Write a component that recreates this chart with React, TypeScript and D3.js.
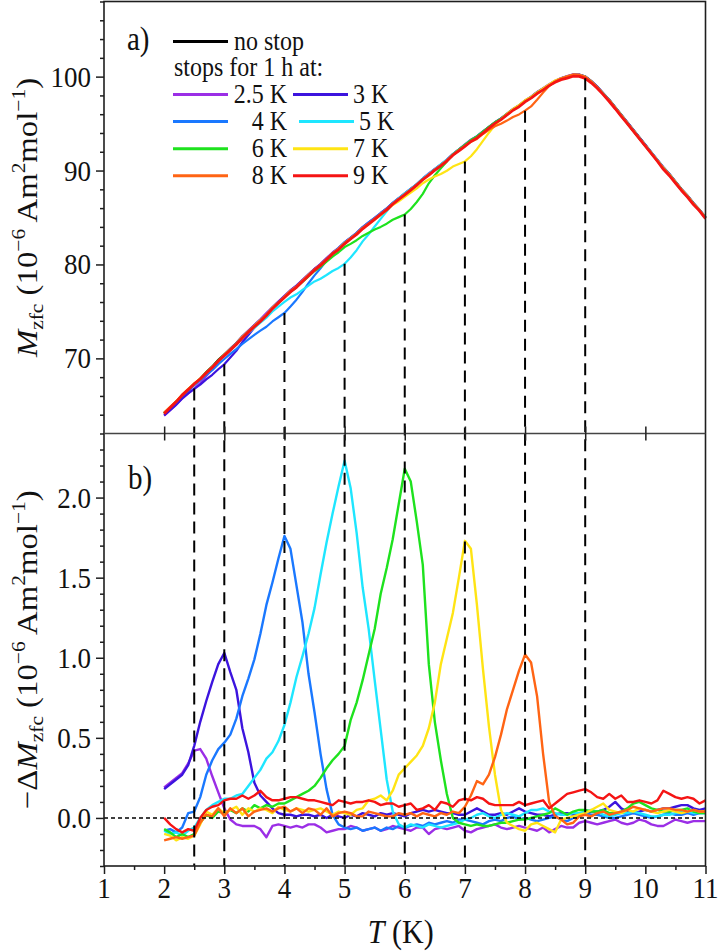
import React, { useRef, useEffect } from 'react';
import * as d3 from 'd3';

// temperature grid of the sweep, 2.0 K to 11.0 K in 0.1 K steps
const temps = d3.range(20, 111).map((i) => i / 10);

const stopTemps = [2.5, 3, 4, 5, 6, 7, 8, 9];
const stopLabels = ['2.5 K', '3 K', '4 K', '5 K', '6 K', '7 K', '8 K', '9 K'];
const stopColors = ['#9b2ee6', '#3c14de', '#1a78ff', '#1ee6ff', '#1ee21e', '#ffe414', '#ff6414', '#f51414'];

const xTicks = [1, 2, 3, 4, 5, 6, 7, 8, 9, 10, 11];
const mTicks = [70, 80, 90, 100];
const dmTicks = [0, 0.5, 1, 1.5, 2];

// M_zfc without stop (10^-6 Am^2/mol)
const mNoStop = [
  64.1, 64.7, 65.3, 66.0, 66.6, 67.2, 67.8, 68.5, 69.1, 69.8,
  70.4, 71.0, 71.6, 72.3, 72.9, 73.5, 74.1, 74.7, 75.4, 76.0,
  76.6, 77.2, 77.7, 78.3, 78.9, 79.5, 80.0, 80.6, 81.2, 81.7,
  82.3, 82.8, 83.3, 83.9, 84.4, 84.9, 85.4, 85.9, 86.5, 87.0,
  87.5, 88.0, 88.5, 89.1, 89.6, 90.1, 90.6, 91.1, 91.7, 92.2,
  92.7, 93.2, 93.6, 94.1, 94.6, 95.1, 95.5, 96.0, 96.5, 96.9,
  97.4, 97.8, 98.3, 98.7, 99.1, 99.5, 99.8, 100.0, 100.2, 100.2,
  100.0, 99.5, 98.9, 98.2, 97.5, 96.7, 95.9, 95.1, 94.3, 93.5,
  92.7, 91.9, 91.1, 90.3, 89.6, 88.8, 88.0, 87.3, 86.5, 85.8,
  85.0,
];

// -ΔM_zfc for each stop temperature
const dm25 = [
  0.19, 0.22, 0.25, 0.28, 0.34, 0.42, 0.43, 0.37, 0.26, 0.16,
  0.06, -0.01, -0.04, -0.05, -0.05, -0.05, -0.07, -0.12, -0.05, -0.04,
  -0.05, -0.06, -0.05, -0.06, -0.04, -0.04, -0.06, -0.09, -0.08, -0.07,
  -0.07, -0.05, -0.06, -0.08, -0.07, -0.06, -0.08, -0.07, -0.05, -0.06,
  -0.07, -0.08, -0.06, -0.06, -0.10, -0.07, -0.06, -0.07, -0.06, -0.05,
  -0.08, -0.09, -0.07, -0.06, -0.05, -0.04, -0.06, -0.07, -0.06, -0.05,
  -0.06, -0.07, -0.08, -0.06, -0.09, -0.07, -0.05, -0.06, -0.06, -0.03,
  -0.02, -0.03, -0.04, -0.03, -0.02, -0.01, -0.03, -0.04, -0.03, -0.01,
  -0.02, -0.04, -0.05, -0.05, -0.03, -0.01, -0.02, -0.03, -0.02, -0.02,
  -0.02,
];
const dm3 = [
  0.18, 0.21, 0.24, 0.27, 0.33, 0.45, 0.60, 0.73, 0.85, 0.96,
  1.03, 0.91, 0.80, 0.56, 0.41, 0.22, 0.14, 0.10, 0.06, 0.03,
  0.02, 0.02, 0.01, 0.02, 0.02, 0.01, 0.02, 0.00, 0.02, 0.01,
  0.00, 0.02, 0.01, 0.03, 0.02, 0.01, 0.03, 0.02, 0.03, 0.02,
  0.01, 0.03, 0.04, 0.05, 0.04, 0.05, 0.04, 0.03, 0.03, 0.02,
  0.02, 0.04, 0.06, 0.04, 0.02, 0.02, 0.03, 0.02, 0.04, 0.06,
  0.04, 0.03, 0.02, 0.02, 0.01, 0.02, 0.03, 0.03, 0.02, 0.03,
  0.03, 0.04, 0.04, 0.05, 0.07, 0.10, 0.06, 0.04, 0.03, 0.04,
  0.05, 0.04, 0.05, 0.06, 0.06, 0.07, 0.08, 0.08, 0.06, 0.05,
  0.06,
];
const dm4 = [
  -0.08, -0.07, -0.09, -0.06, 0.03, 0.04, 0.13, 0.27, 0.36, 0.43,
  0.47, 0.52, 0.62, 0.76, 0.87, 0.99, 1.15, 1.33, 1.47, 1.62,
  1.76, 1.68, 1.45, 1.22, 0.90, 0.66, 0.40, 0.18, 0.02, -0.04,
  -0.06, -0.07, -0.06, -0.08, -0.07, -0.06, -0.08, -0.06, -0.07, -0.05,
  -0.06, -0.05, -0.04, -0.05, -0.03, -0.04, -0.03, -0.02, -0.03, -0.01,
  -0.01, -0.02, -0.03, -0.04, -0.02, -0.01, -0.02, 0.00, 0.01, -0.01,
  0.00, -0.01, -0.02, -0.01, 0.00, 0.01, -0.01, -0.02, 0.00, 0.02,
  0.03, 0.02, 0.02, 0.01, 0.00, 0.00, 0.01, 0.02, 0.03, 0.02,
  0.01, 0.00, 0.01, 0.02, 0.03, 0.02, 0.02, 0.03, 0.02, 0.03,
  0.03,
];
const dm5 = [
  -0.08, -0.10, -0.09, -0.11, -0.08, -0.06, 0.00, 0.05, 0.08, 0.10,
  0.12, 0.12, 0.14, 0.15, 0.20, 0.25, 0.30, 0.37, 0.41, 0.48,
  0.58, 0.72, 0.88, 1.01, 1.15, 1.31, 1.52, 1.72, 1.90, 2.07,
  2.23, 2.06, 1.78, 1.44, 1.18, 0.86, 0.55, 0.24, 0.04, -0.04,
  -0.06, -0.04, -0.05, -0.06, -0.04, -0.05, -0.06, -0.05, -0.04, -0.03,
  -0.01, 0.00, 0.02, 0.03, 0.01, 0.00, 0.02, 0.03, 0.02, 0.01,
  0.03, 0.05, 0.05, 0.06, 0.04, 0.03, 0.02, 0.02, 0.03, 0.03,
  0.04, 0.05, 0.04, 0.02, 0.01, 0.02, 0.03, 0.03, 0.04, 0.03,
  0.02, 0.01, 0.01, 0.02, 0.02, 0.03, 0.04, 0.04, 0.03, 0.03,
  0.03,
];
const dm6 = [
  -0.07, -0.09, -0.12, -0.10, -0.12, -0.10, -0.03, 0.02, 0.00, 0.04,
  0.03, 0.05, 0.03, 0.06, 0.04, 0.08, 0.06, 0.08, 0.07, 0.09,
  0.09, 0.11, 0.13, 0.15, 0.17, 0.20, 0.25, 0.31, 0.36, 0.40,
  0.45, 0.61, 0.72, 0.86, 1.02, 1.18, 1.40, 1.56, 1.74, 1.96,
  2.18, 2.10, 1.85, 1.58, 0.96, 0.60, 0.36, 0.15, 0.00, -0.03,
  -0.04, -0.05, -0.04, -0.05, -0.05, -0.04, -0.03, -0.03, -0.02, -0.01,
  -0.01, 0.00, 0.01, 0.02, 0.03, 0.06, 0.04, 0.02, 0.04, 0.05,
  0.05, 0.04, 0.04, 0.05, 0.03, 0.03, 0.04, 0.06, 0.09, 0.10,
  0.08, 0.06, 0.05, 0.04, 0.04, 0.05, 0.05, 0.06, 0.04, 0.03,
  0.03,
];
const dm7 = [
  -0.10, -0.11, -0.14, -0.12, -0.13, -0.11, -0.04, 0.04, 0.02, 0.06,
  0.03, 0.05, 0.07, 0.02, 0.06, 0.04, 0.06, 0.05, 0.03, 0.07,
  0.05, 0.04, 0.06, 0.05, 0.04, 0.05, 0.06, 0.04, 0.02, 0.04,
  0.03, 0.02, 0.05, 0.06, 0.11, 0.12, 0.14, 0.11, 0.17, 0.27,
  0.31, 0.35, 0.39, 0.45, 0.56, 0.72, 0.96, 1.12, 1.28, 1.50,
  1.73, 1.68, 1.33, 0.93, 0.57, 0.27, 0.05, -0.03, -0.05, -0.07,
  -0.08, -0.04, -0.03, -0.05, -0.07, -0.09, -0.01, 0.00, 0.01, 0.02,
  0.03, 0.05, 0.07, 0.09, 0.05, 0.04, 0.03, 0.05, 0.04, 0.06,
  0.05, 0.04, 0.03, 0.04, 0.05, 0.04, 0.03, 0.04, 0.05, 0.04,
  0.04,
];
const dm8 = [
  -0.14, -0.13, -0.12, -0.13, -0.12, -0.11, -0.03, 0.02, 0.01, 0.06,
  0.01, 0.06, 0.03, 0.06, 0.01, 0.04, 0.05, 0.06, 0.04, 0.06,
  0.07, 0.04, 0.06, 0.03, 0.06, 0.05, 0.02, 0.06, 0.01, 0.03,
  0.04, 0.03, 0.01, 0.01, 0.04, 0.03, 0.02, 0.01, 0.01, 0.03,
  0.02, 0.03, 0.01, 0.03, 0.02, 0.01, 0.03, 0.02, 0.04, 0.03,
  0.07, 0.14, 0.23, 0.21, 0.27, 0.38, 0.52, 0.68, 0.80, 0.92,
  1.02, 0.97, 0.76, 0.40, 0.10, 0.01, -0.01, -0.04, -0.03, 0.01,
  0.02, 0.01, 0.03, 0.04, 0.02, 0.03, 0.04, 0.05, 0.07, 0.06,
  0.05, 0.04, 0.05, 0.06, 0.06, 0.05, 0.05, 0.04, 0.05, 0.04,
  0.04,
];
const dm9 = [
  0.00, -0.04, -0.07, -0.09, -0.07, -0.08, 0.00, 0.05, 0.07, 0.08,
  0.11, 0.12, 0.12, 0.14, 0.12, 0.14, 0.17, 0.13, 0.11, 0.11,
  0.12, 0.13, 0.13, 0.12, 0.11, 0.11, 0.10, 0.09, 0.08, 0.11,
  0.10, 0.09, 0.10, 0.10, 0.11, 0.10, 0.08, 0.09, 0.09, 0.07,
  0.08, 0.09, 0.05, 0.06, 0.08, 0.05, 0.10, 0.09, 0.07, 0.11,
  0.12, 0.11, 0.13, 0.12, 0.09, 0.08, 0.08, 0.08, 0.08, 0.10,
  0.08, 0.09, 0.10, 0.11, 0.06, 0.09, 0.12, 0.15, 0.16, 0.17,
  0.18, 0.16, 0.13, 0.12, 0.15, 0.12, 0.14, 0.10, 0.10, 0.11,
  0.10, 0.09, 0.11, 0.17, 0.15, 0.13, 0.12, 0.13, 0.12, 0.09,
  0.11,
];

const deltas = [dm25, dm3, dm4, dm5, dm6, dm7, dm8, dm9];

const FONT = '"Liberation Serif", "Times New Roman", Times, serif';
const STRETCH = 1.13; // glyphs in this figure are a little taller than wide

const MemoryChart = () => {
  const ref = useRef(null);

  useEffect(() => {
    if (!ref.current) return;
    const svg = d3.select(ref.current);
    svg.selectAll('*').remove();

    const left = 104;
    const right = 705.5;
    const top = 1.5;
    const mid = 433.5;
    const bottom = 866;

    const x = d3.scaleLinear().domain([1, 11]).range([left, right]);
    const yA = d3.scaleLinear().domain([62, 108]).range([mid, top]);
    const yB = d3.scaleLinear().domain([-0.3, 2.4]).range([bottom, mid]);

    const ink = '#1e1e1e';

    const text = (px, py, str, size, anchor = 'start', stretch = STRETCH) =>
      svg.append('text')
        .attr('transform', `translate(${px},${py}) scale(1,${stretch})`)
        .attr('font-family', FONT)
        .attr('font-size', size)
        .attr('text-anchor', anchor)
        .attr('fill', '#111')
        .text(str);

    // ---- curves, panel a
    const lineA = d3.line().x((d) => x(d[0])).y((d) => yA(d[1]));
    svg.append('path')
      .attr('d', lineA(temps.map((t, i) => [t, mNoStop[i]])))
      .attr('fill', 'none').attr('stroke', '#000').attr('stroke-width', 2.6);

    deltas.forEach((dm, k) => {
      const pts = temps.map((t, i) => [t, mNoStop[i] - dm[i]]);
      svg.append('path')
        .attr('d', lineA(pts))
        .attr('fill', 'none')
        .attr('stroke', stopColors[k])
        .attr('stroke-width', k === 7 ? 2.8 : 2.2)
        .attr('stroke-linejoin', 'round');
    });

    // ---- curves, panel b
    const lineB = d3.line().x((d) => x(d[0])).y((d) => yB(d[1]));
    deltas.forEach((dm, k) => {
      svg.append('path')
        .attr('d', lineB(temps.map((t, i) => [t, dm[i]])))
        .attr('fill', 'none')
        .attr('stroke', stopColors[k])
        .attr('stroke-width', 2.4)
        .attr('stroke-linejoin', 'round');
    });

    // zero line in panel b
    svg.append('line')
      .attr('x1', left).attr('x2', right)
      .attr('y1', yB(0)).attr('y2', yB(0))
      .attr('stroke', '#000').attr('stroke-width', 1.4)
      .attr('stroke-dasharray', '4,3');

    // dashed markers at the stop temperatures, from the dip down to the T axis
    stopTemps.forEach((t, k) => {
      const i = Math.round((t - 2) * 10);
      svg.append('line')
        .attr('x1', x(t)).attr('x2', x(t))
        .attr('y1', yA(mNoStop[i] - deltas[k][i]))
        .attr('y2', bottom)
        .attr('stroke', '#000')
        .attr('stroke-width', 2)
        .attr('stroke-dasharray', '12,7');
    });

    // ---- frame and axes
    const axisStyle = (g) => {
      g.select('.domain').remove();
      g.selectAll('line').attr('stroke', ink).attr('stroke-width', 1.5);
      g.selectAll('text').remove();
    };

    svg.append('rect')
      .attr('x', left).attr('y', top)
      .attr('width', right - left).attr('height', bottom - top)
      .attr('fill', 'none').attr('stroke', ink).attr('stroke-width', 1.6);
    svg.append('line')
      .attr('x1', left).attr('x2', right).attr('y1', mid).attr('y2', mid)
      .attr('stroke', '#444').attr('stroke-width', 1.5);

    // panel a left axis
    svg.append('g').attr('transform', `translate(${left},0)`)
      .call(d3.axisLeft(yA).tickValues(mTicks).tickSize(8))
      .call(axisStyle);
    svg.append('g').attr('transform', `translate(${left},0)`)
      .call(d3.axisLeft(yA).tickValues(d3.range(62, 109, 2).filter((v) => v % 10 !== 0)).tickSize(4))
      .call(axisStyle);

    // panel b left axis
    svg.append('g').attr('transform', `translate(${left},0)`)
      .call(d3.axisLeft(yB).tickValues(dmTicks).tickSize(8))
      .call(axisStyle);
    svg.append('g').attr('transform', `translate(${left},0)`)
      .call(d3.axisLeft(yB).tickValues(d3.range(-3, 24).map((v) => v / 10).filter((v) => Math.abs(v * 2 - Math.round(v * 2)) > 1e-6)).tickSize(4))
      .call(axisStyle);

    // ticks crossing the shared axis between the panels
    const inner = xTicks.slice(1, -1);
    svg.append('g').attr('transform', `translate(0,${mid})`)
      .call(d3.axisBottom(x).tickValues(inner).tickSize(7))
      .call(axisStyle);
    svg.append('g').attr('transform', `translate(0,${mid})`)
      .call(d3.axisTop(x).tickValues(inner).tickSize(7))
      .call(axisStyle);

    // bottom T axis
    svg.append('g').attr('transform', `translate(0,${bottom})`)
      .call(d3.axisBottom(x).tickValues(xTicks).tickSize(8))
      .call(axisStyle);
    svg.append('g').attr('transform', `translate(0,${bottom})`)
      .call(d3.axisBottom(x).tickValues(xTicks.slice(0, -1).map((v) => v + 0.5)).tickSize(4))
      .call(axisStyle);

    // tick labels
    mTicks.forEach((v) => text(left - 13, yA(v) + 10, String(v), 27, 'end'));
    dmTicks.forEach((v) => text(left - 13, yB(v) + 10, v.toFixed(1), 27, 'end'));
    xTicks.forEach((v) => text(x(v), bottom + 32, String(v), 27, 'middle'));

    // axis titles
    const sup = (t, str, up) => t.append('tspan').attr('font-size', 19).attr('dy', up).text(str);
    const mLabel = (t) => {
      t.append('tspan').attr('font-style', 'italic').text('M');
      sup(t, 'zfc', 6);
      t.append('tspan').attr('dy', -6).text(' (10');
      sup(t, '\u22126', -12);
      t.append('tspan').attr('dy', 12).text(' Am');
      sup(t, '2', -12);
      t.append('tspan').attr('dy', 12).text('mol');
      sup(t, '\u22121', -12);
      t.append('tspan').attr('dy', 12).text(')');
    };
    const yTitle = (cy, prefix) => {
      const t = svg.append('text')
        .attr('transform', `translate(37,${cy}) scale(1,${STRETCH}) rotate(-90)`)
        .attr('font-family', FONT).attr('font-size', 29)
        .attr('text-anchor', 'middle').attr('fill', '#111');
      if (prefix) t.append('tspan').text(prefix);
      mLabel(t);
    };
    yTitle((top + mid) / 2, null);
    yTitle((mid + bottom) / 2, '\u2212\u0394');

    const tt = svg.append('text')
      .attr('transform', `translate(${x(6) - 4},943) scale(1,${STRETCH})`)
      .attr('font-family', FONT).attr('font-size', 30)
      .attr('text-anchor', 'middle').attr('fill', '#111');
    tt.append('tspan').attr('font-style', 'italic').text('T');
    tt.append('tspan').text(' (K)');

    // panel letters
    text(127, 50, 'a)', 29);
    text(128, 489, 'b)', 29);

    // ---- legend
    svg.append('line').attr('x1', 173).attr('x2', 228).attr('y1', 41.5).attr('y2', 41.5)
      .attr('stroke', '#000').attr('stroke-width', 3);
    text(234, 49.5, 'no stop', 24, 'start', 1.1);
    text(174, 75.5, 'stops for 1 h at:', 24, 'start', 1.1);

    stopLabels.forEach((lab, k) => {
      const row = Math.floor(k / 2);
      const col = k % 2;
      const yc = 94.5 + row * 27.1;
      const shift = lab === '5 K' ? 6 : 0;
      const x1 = col === 0 ? 173 : 293 + shift;
      svg.append('line')
        .attr('x1', x1).attr('x2', x1 + 55)
        .attr('y1', yc).attr('y2', yc)
        .attr('stroke', stopColors[k]).attr('stroke-width', 3);
      if (col === 0) text(287, yc + 8.5, lab, 24, 'end', 1.1);
      else text(353 + shift, yc + 8.5, lab, 24, 'start', 1.1);
    });
  }, []);

  return (
    <svg
      ref={ref}
      width={718}
      height={951}
      style={{ position: 'absolute', left: 0, top: 0, background: '#fff' }}
    />
  );
};

export default function App() {
  return <MemoryChart />;
}
